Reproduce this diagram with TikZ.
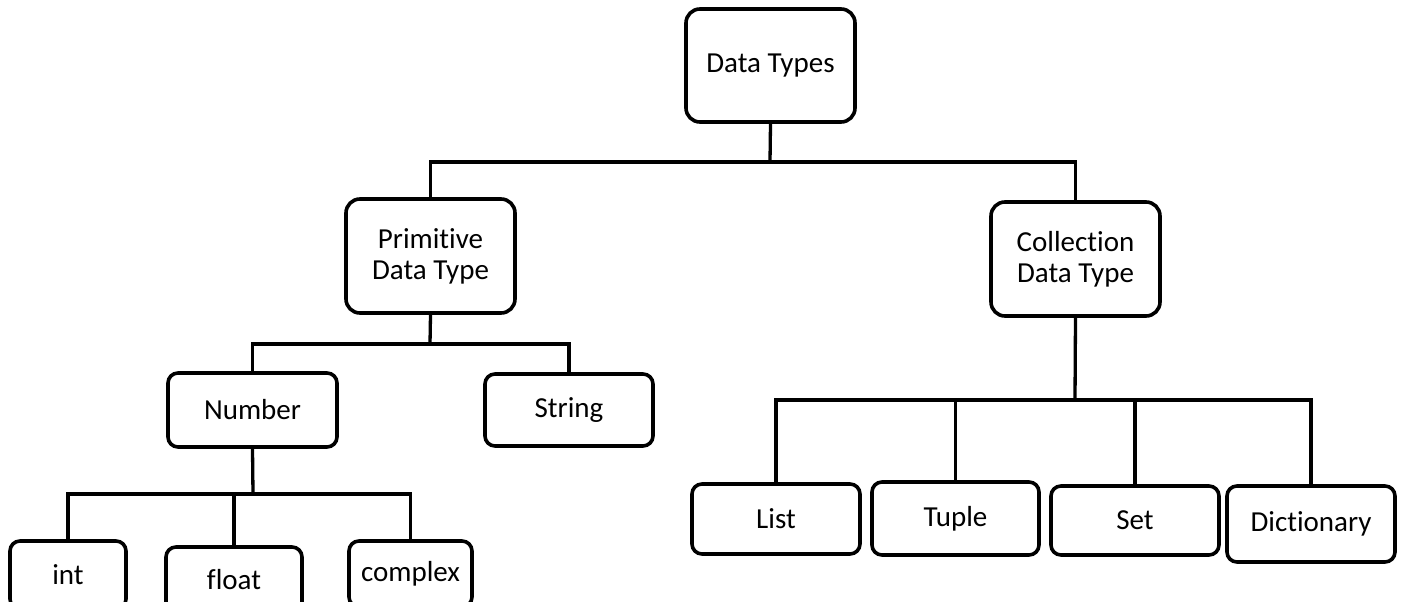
\documentclass[tikz,border=0pt]{standalone}
\usepackage{fontspec}
\setmainfont{Carlito}[Ligatures={NoCommon}]
\begin{document}
\begin{tikzpicture}[x=1pt,y=-1pt,
  box/.style={draw=black, line width=3.6pt, rounded corners=14pt, fill=white,
    align=center, inner sep=0pt, font=\fontsize{29}{31}\selectfont},
  sbox/.style={box, rounded corners=10pt},
  link/.style={draw=black, line width=3.3pt}]
\useasboundingbox (0,0) rectangle (1401,602);

% root and second level
\node[box, minimum width=169pt, minimum height=113pt] (dt)   at (770.5,65.5) {Data Types};
\node[box, minimum width=169pt, minimum height=114pt] (prim) at (430.5,256)  {Primitive\\Data Type};
\node[box, minimum width=169pt, minimum height=114pt] (coll) at (1075.5,259) {Collection\\Data Type};

% primitive branch
\node[sbox, minimum width=169pt, minimum height=74pt] (num) at (252.5,410) {Number};
\node[sbox, minimum width=168pt, minimum height=72pt] (str) at (569,410)   {String};

\node[sbox, minimum width=116pt, minimum height=68pt] (int)  at (68,575)    {int};
\node[sbox, minimum width=136pt, minimum height=66pt] (flt)  at (234,580)   {float};
\node[sbox, minimum width=123pt, minimum height=66pt] (cpx)  at (410.5,574) {complex};

% collection branch
\node[sbox, minimum width=168pt, minimum height=70pt] (lst) at (776,519)    {List};
\node[sbox, minimum width=167pt, minimum height=73pt] (tup) at (955.5,518.5){Tuple};
\node[sbox, minimum width=168pt, minimum height=69pt] (set) at (1135,520.5) {Set};
\node[sbox, minimum width=168pt, minimum height=76pt] (dic) at (1311,524)   {Dictionary};

% bus junctions
\coordinate (j0) at (770,162);
\coordinate (j1) at (430,344);
\coordinate (j2) at (253,494);
\coordinate (j3) at (1075,400);

% connectors
\draw[link] (dt.south) -- (j0);
\draw[link] (j0) -| (prim.north);
\draw[link] (j0) -| (coll.north);

\draw[link] (prim.south) -- (j1);
\draw[link] (j1) -| (num.north);
\draw[link] (j1) -| (str.north);

\draw[link] (num.south) -- (j2);
\draw[link] (j2) -| (int.north);
\draw[link] (j2) -| (flt.north);
\draw[link] (j2) -| (cpx.north);

\draw[link] (coll.south) -- (j3);
\draw[link] (j3) -| (lst.north);
\draw[link] (j3) -| (tup.north);
\draw[link] (j3) -| (set.north);
\draw[link] (j3) -| (dic.north);
\end{tikzpicture}
\end{document}
